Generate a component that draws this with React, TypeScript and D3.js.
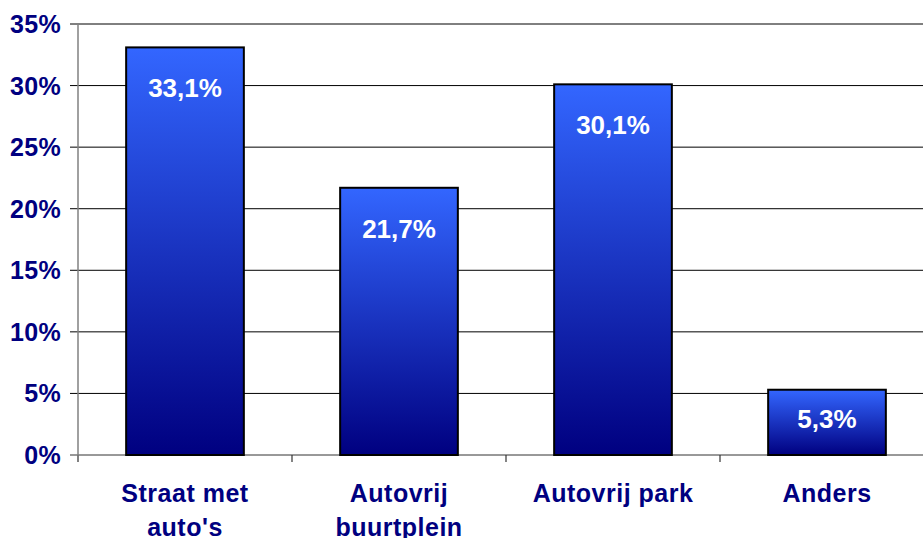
import React from "react";
import * as d3 from "d3";

const categories: string[][] = [["Straat met", "auto's"], ["Autovrij", "buurtplein"], ["Autovrij park"], ["Anders"]];
const values: number[] = [33.1, 21.7, 30.1, 5.3];
const valueLabels: string[] = ["33,1%", "21,7%", "30,1%", "5,3%"];
const yTicks: number[] = [0, 5, 10, 15, 20, 25, 30, 35];

const W = 923;
const H = 538;
const left = 78;
const bandW = 214;
const top = 24;
const bottom = 455;
const FONT = "Arial, 'Liberation Sans', sans-serif";
const NAVY = "#000080";

export default function App() {
  const x = d3
    .scaleBand<number>()
    .domain(values.map((_, i) => i))
    .range([left, left + bandW * values.length])
    .paddingInner(0.45)
    .paddingOuter(0.225);
  const y = d3.scaleLinear().domain([0, 35]).range([bottom, top]);
  const right = left + bandW * values.length;

  return (
    <div style={{ position: "fixed", left: 0, top: 0 }}>
      <svg width={W} height={H} style={{ display: "block", background: "#fff" }}>
        <defs>
          <linearGradient id="barGrad" x1="0" y1="0" x2="0" y2="1">
            <stop offset="0%" stopColor="#3366FF" />
            <stop offset="100%" stopColor="#000080" />
          </linearGradient>
        </defs>
        {/* gridlines */}
        {yTicks.map((t) => (
          <g key={t}>
            <line x1={70} x2={right} y1={y(t)} y2={y(t)} stroke={t === 0 ? "#333" : "#000"} strokeWidth={1} />
            <text
              x={61}
              y={y(t)}
              textAnchor="end"
              dominantBaseline="central"
              fontFamily={FONT}
              fontWeight="bold"
              fontSize={25}
              letterSpacing={0.3}
              fill={NAVY}
            >
              {t}%
            </text>
          </g>
        ))}
        {/* category ticks */}
        {d3.range(values.length + 1).map((i) => (
          <line key={i} x1={left + i * bandW} x2={left + i * bandW} y1={bottom} y2={bottom + 7} stroke="#333" strokeWidth={1.2} />
        ))}
        {/* y axis */}
        <line x1={left} x2={left} y1={top} y2={bottom + 7} stroke="#808080" strokeWidth={1.5} />
        {/* bars */}
        {values.map((v, i) => {
          const bx = x(i)!;
          const bw = x.bandwidth();
          const by = y(v);
          const bh = bottom - by;
          const ly = bh > 80 ? by + 41 : by + bh / 2 - 3;
          return (
            <g key={i}>
              <rect x={bx} y={by} width={bw} height={bh} fill="url(#barGrad)" stroke="#000" strokeWidth={2} />
              <text
                x={bx + bw / 2}
                y={ly}
                textAnchor="middle"
                dominantBaseline="central"
                fontFamily={FONT}
                fontWeight="bold"
                fontSize={26}
                fill="#fff"
              >
                {valueLabels[i]}
              </text>
            </g>
          );
        })}
        {/* category labels */}
        {categories.map((lines, i) => (
          <text
            key={i}
            x={x(i)! + x.bandwidth() / 2}
            textAnchor="middle"
            fontFamily={FONT}
            fontWeight="bold"
            fontSize={25}
            letterSpacing={0.5}
            fill={NAVY}
          >
            {lines.map((l, j) => (
              <tspan key={j} x={x(i)! + x.bandwidth() / 2} y={502 + j * 34}>
                {l}
              </tspan>
            ))}
          </text>
        ))}
      </svg>
    </div>
  );
}
